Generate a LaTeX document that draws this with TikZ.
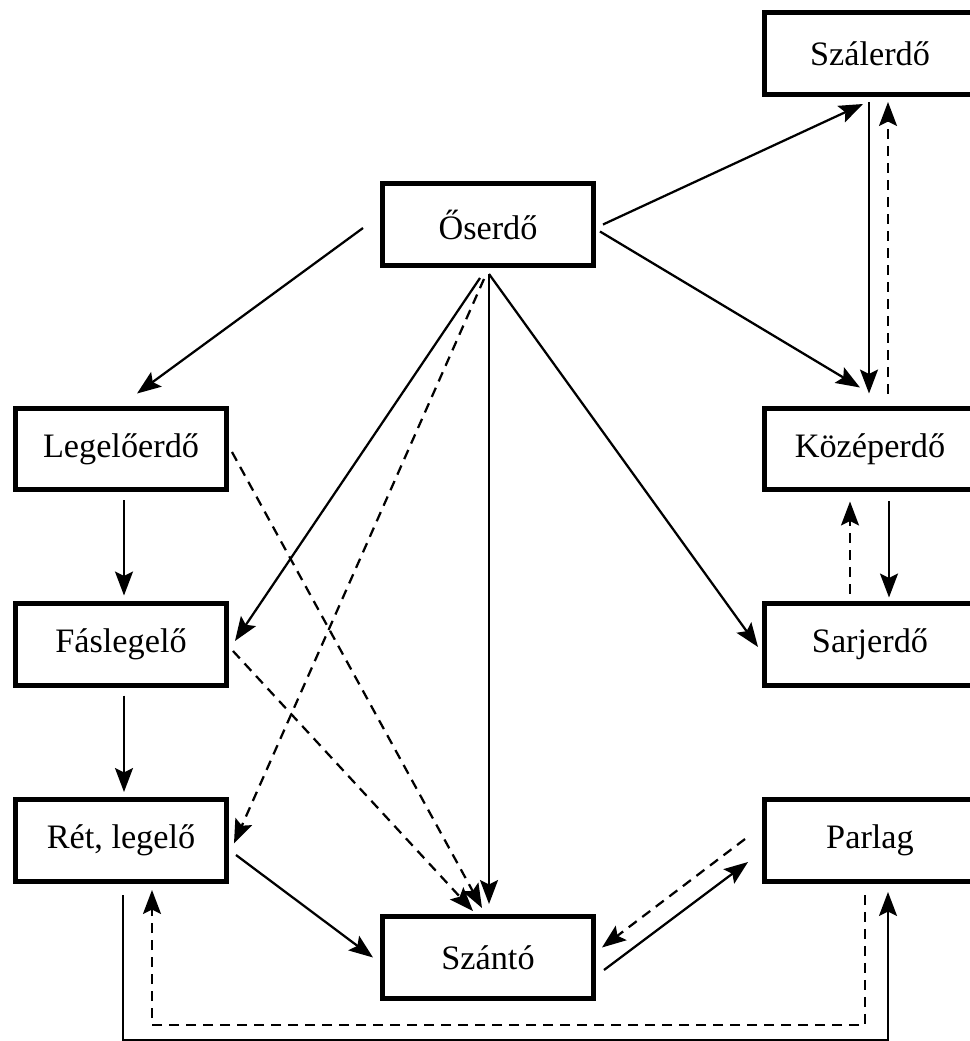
\documentclass[tikz,border=0pt]{standalone}
\usepackage{fontspec}
\setmainfont{Liberation Serif}
\usetikzlibrary{arrows.meta,calc}
\begin{document}
\begin{tikzpicture}[x=0.02cm,y=-0.02cm,
  box/.style={draw, line width=0.1cm, minimum width=4.22cm, minimum height=1.64cm,
    inner sep=0pt, font=\fontsize{19.5}{23}\selectfont},
  link/.style={line width=0.045cm, -{Stealth[length=0.48cm,width=0.36cm,inset=0.09cm]}},
  back/.style={link, dash pattern=on 0.2cm off 0.14cm}]
\useasboundingbox (0,0) rectangle (970,1041);
\clip (0,0) rectangle (970,1041);

% stages of land use
\node[box] (szal)  at (870,53.5)  {Szálerdő};
\node[box] (oser)  at (488,224.5) {Őserdő};
\node[box] (leg)   at (121,449)   {Legelőerdő};
\node[box] (kozep) at (870,449)   {Középerdő};
\node[box] (fasl)  at (121,644)   {Fáslegelő};
\node[box] (sarj)  at (870,644)   {Sarjerdő};
\node[box] (ret)   at (121,840.5) {Rét, legelő};
\node[box] (parl)  at (870,840.5) {Parlag};
\node[box] (szanto) at (488,957.5) {Szántó};

% transitions out of the primeval forest
\draw[link] ($(oser.west)+(-17,3.5)$) -- ($(leg.north)+(16,-12)$);
\draw[link] ($(oser.east)+(7,0)$) -- ($(szal.south)+(-7,7)$);
\draw[link] ($(oser.east)+(4,7)$) -- ($(kozep.north)+(-10,-18)$);
\draw[link] ($(oser.south)+(1,6)$) -- ($(sarj.west)+(-4,3)$);
\draw[link] ($(oser.south)+(1,6)$) -- ($(szanto.north)+(1,-10)$);
\draw[link] ($(oser.south)+(-8,10)$) -- ($(fasl.east)+(6,-3)$);
\draw[back] ($(oser.south)+(-4,11)$) -- ($(ret.east)+(5,3)$);

% forest management on the right
\draw[link] ($(szal.south)+(-1,5)$) -- ($(kozep.north)+(-1,-12)$);
\draw[back] ($(kozep.north)+(18,-12)$) -- ($(szal.south)+(18,5)$);
\draw[link] ($(kozep.south)+(19,9)$) -- ($(sarj.north)+(19,-3)$);
\draw[back] ($(sarj.north)+(-20,-7)$) -- ($(kozep.south)+(-20,9)$);

% degradation chain on the left
\draw[link] ($(leg.south)+(3,8)$) -- ($(fasl.north)+(3,-5)$);
\draw[link] ($(fasl.south)+(3,8)$) -- ($(ret.north)+(3,-5)$);
\draw[back] ($(leg.east)+(3,3)$) -- ($(szanto.north)+(-6,-6)$);
\draw[back] ($(fasl.east)+(4,7)$) -- ($(szanto.north)+(-15,-3)$);

% arable land and fallow
\draw[link] ($(ret.east)+(7,14.5)$) -- ($(szanto.west)+(-7,0)$);
\draw[link] ($(szanto.east)+(8,12.5)$) -- ($(parl.west)+(-14,21.5)$);
\draw[back] ($(parl.west)+(-17,-1.5)$) -- ($(szanto.east)+(6,-10)$);

% loops along the bottom
\draw[link] ($(ret.south)+(2,11)$) |- (888,1040) -- ($(parl.south)+(18,8)$);
\draw[back] ($(parl.south)+(-5,11)$) |- (152,1025) -- ($(ret.south)+(31,6)$);
\end{tikzpicture}
\end{document}
